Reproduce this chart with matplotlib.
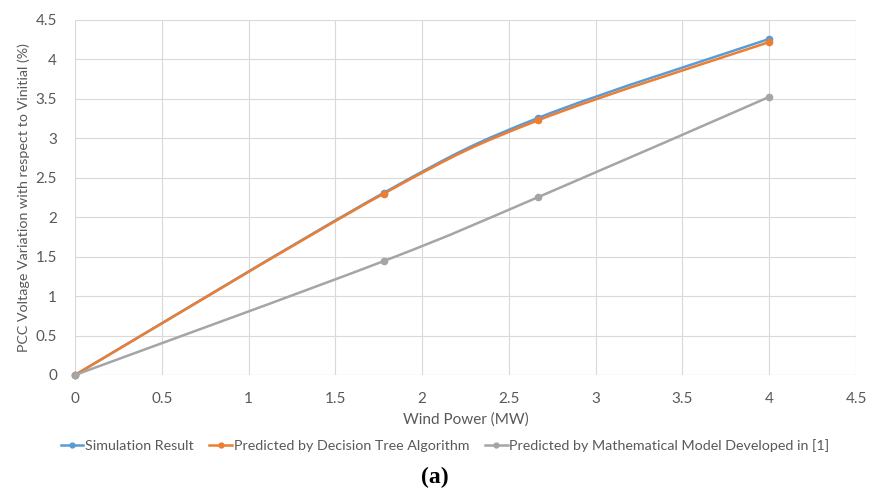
import numpy as np
import matplotlib
matplotlib.use("Agg")
import matplotlib.pyplot as plt
from matplotlib.path import Path
from matplotlib.patches import PathPatch
from matplotlib.lines import Line2D

wind_power = [0, 1.78, 2.67, 4.0]
simulation = [0, 2.31, 3.26, 4.26]
decision_tree = [0, 2.30, 3.23, 4.22]
math_model = [0, 1.445, 2.256, 3.525]

labels = ["Simulation Result",
          "Predicted by Decision Tree Algorithm",
          "Predicted by Mathematical Model Developed in [1]"]
colors = ["#5B9BD5", "#ED7D31", "#A5A5A5"]

plt.rcParams['font.family'] = ['Lato', 'DejaVu Sans']
txt = "#595959"

fig = plt.figure(figsize=(8.7, 4.9), dpi=100)
ax = fig.add_axes([75/870, 1-375/490, (856-75)/870, (375-20)/490])


def smooth_path(xs, ys):
    pts = np.column_stack([xs, ys]).astype(float)
    n = len(pts)
    verts = [pts[0]]
    codes = [Path.MOVETO]
    for i in range(n - 1):
        p0 = pts[i - 1] if i > 0 else pts[i]
        p1 = pts[i]
        p2 = pts[i + 1]
        p3 = pts[i + 2] if i + 2 < n else pts[i + 1]
        c1 = p1 + (p2 - p0) / 6.0
        c2 = p2 - (p3 - p1) / 6.0
        verts += [c1, c2, p2]
        codes += [Path.CURVE4] * 3
    return Path(verts, codes)


series = [simulation, decision_tree, math_model]
for ys, c, lab in zip(series, colors, labels):
    patch = PathPatch(smooth_path(wind_power, ys), facecolor='none',
                      edgecolor=c, lw=1.8, zorder=3, capstyle='round')
    ax.add_patch(patch)
    ax.plot(wind_power, ys, linestyle='none', marker='o', ms=4.5,
            color=c, zorder=4, clip_on=False)

ax.set_xlim(0, 4.5)
ax.set_ylim(0, 4.5)
ticks = [0, 0.5, 1, 1.5, 2, 2.5, 3, 3.5, 4, 4.5]
ticklabels = ["0", "0.5", "1", "1.5", "2", "2.5", "3", "3.5", "4", "4.5"]
ax.set_xticks(ticks)
ax.set_xticklabels(ticklabels)
ax.set_yticks(ticks)
ax.set_yticklabels(ticklabels)
ax.grid(True, color="#D9D9D9", lw=0.8)
ax.set_axisbelow(True)
for s in ax.spines.values():
    s.set_visible(False)
ax.axhline(0, color="#D9D9D9", lw=0.8, zorder=1)
ax.tick_params(axis='x', length=0, labelsize=11, colors=txt, pad=12)
ax.tick_params(axis='y', length=0, labelsize=11, colors=txt, pad=13)
ax.set_xlabel("Wind Power (MW)", fontsize=11, color=txt, labelpad=5)
ax.set_ylabel("PCC Voltage Variation with respect to Vinitial (%)",
              fontsize=10.3, color=txt, labelpad=4)

handles = [Line2D([0], [0], color=c, lw=1.8, marker='o', ms=3.5) for c in colors]
fig.legend(handles, labels, loc='center', bbox_to_anchor=(445/870, 1-446/490),
           ncol=3, frameon=False, fontsize=10.3, handlelength=1.6,
           handletextpad=0.1, columnspacing=1.1, labelcolor=txt)

fig.text(0.5, 1-477/490, "(a)", ha='center', va='center', fontsize=17,
         fontweight='bold', family=['Liberation Serif', 'DejaVu Serif'])

fig.savefig("out.png", dpi=100)
